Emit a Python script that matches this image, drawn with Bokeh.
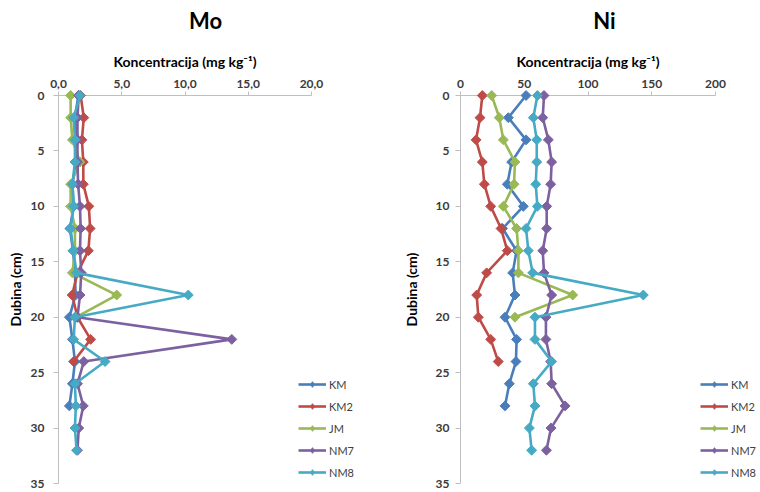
import math
from bokeh.plotting import figure
from bokeh.layouts import row
from bokeh.models import Range1d, FixedTicker, Legend, LegendItem
from bokeh.core.properties import value
from bokeh.embed import file_html
from bokeh.resources import INLINE

# ---------------- data ----------------
series_names = ["KM", "KM2", "JM", "NM7", "NM8"]
series_colors = ["#4a7ebb", "#be4b48", "#98b954", "#7d60a0", "#46aac5"]

depth = [0, 2, 4, 6, 8, 10, 12, 14, 16, 18, 20, 22, 24, 26, 28, 30, 32]

# Mo (mg/kg)
mo_km = [1.57, 1.3, 1.45, 1.4, 1.1, 1.2, 0.9, 1.15, 1.3, 1.35, 0.86, 1.1, 1.3, 1.1, 0.86]
mo_km2 = [1.75, 2.0, 1.85, 1.96, 1.96, 2.4, 2.5, 2.36, 1.5, 1.08, 1.5, 2.54, 1.2]
mo_jm = [0.96, 0.96, 1.1, 1.7, 0.96, 0.96, 1.3, 1.3, 1.1, 4.6, 1.4]
mo_nm7 = [1.6, 1.5, 1.5, 1.5, 1.55, 1.7, 1.75, 1.7, 1.8, 1.7, 1.5, 13.7, 2.0, 1.5, 1.96, 1.6, 1.5]
mo_nm8 = [1.7, 1.2, 1.3, 1.3, 1.1, 1.2, 0.96, 1.17, 1.43, 10.26, 1.3, 1.2, 3.68, 1.3, 1.37, 1.3, 1.43]

# Ni (mg/kg)
ni_km = [51.4, 37.5, 51.4, 40.1, 36.7, 49.3, 33.0, 44.0, 40.9, 42.7, 34.9, 44.0, 43.5, 38.3, 34.9]
ni_km2 = [17.1, 15.3, 12.2, 17.1, 18.7, 23.7, 31.8, 36.7, 20.5, 12.7, 14.0, 23.7, 29.6]
ni_jm = [24.5, 30.4, 33.6, 42.7, 42.0, 33.6, 44.0, 45.4, 45.4, 88.0, 42.7]
ni_nm7 = [65.5, 64.5, 68.9, 71.5, 70.7, 67.6, 67.6, 64.5, 65.5, 71.5, 67.0, 67.0, 70.7, 71.5, 82.0, 71.0, 67.4]
ni_nm8 = [60.3, 57.1, 59.8, 59.8, 59.0, 60.3, 51.4, 53.2, 56.6, 143.4, 58.4, 58.4, 71.5, 57.1, 58.4, 54.0, 55.8]

mo_x_ticks = [0, 5, 10, 15, 20]
mo_x_labels = ["0,0", "5,0", "10,0", "15,0", "20,0"]
ni_x_ticks = [0, 50, 100, 150, 200]
ni_x_labels = ["0", "50", "100", "150", "200"]
y_ticks = [0, 5, 10, 15, 20, 25, 30, 35]

x_title = "Koncentracija (mg kg⁻¹)"
y_title = "Dubina (cm)"

FONT = "Lato"
AXIS_COLOR = "#bfbfbf"
TICK_TEXT = "#3a3a3a"


def panel(title, series, x_ticks, x_labels, width, border_left, border_right,
          axis_px, title_px_x, ylab_standoff, tick_standoff, legend_x):
    height = 492
    border_top = 95
    border_bottom = 9
    frame_w = width - border_left - border_right
    frame_h = height - border_top - border_bottom
    x_max = x_ticks[-1]
    x_end = x_max * frame_w / axis_px
    y_max = y_ticks[-1]
    px_per_x = frame_w / x_end
    px_per_y = frame_h / y_max

    p = figure(width=width, height=height, output_backend="svg", toolbar_location=None,
               x_range=Range1d(0, x_end), y_range=Range1d(y_max, 0),
               x_axis_location="above",
               min_border_left=border_left, min_border_right=border_right,
               min_border_top=border_top, min_border_bottom=border_bottom)
    p.xgrid.visible = False
    p.ygrid.visible = False
    p.outline_line_color = None

    # chart title, 75 px above the frame top (drawn unclipped)
    p.text(x=[title_px_x / px_per_x], y=[-75 / px_per_y], text=[title],
           text_align="center", text_baseline="middle",
           text_font=value(FONT), text_font_size=value("22px"),
           text_font_style="bold", text_color="#000000", level="overlay")
    # x-axis title, centred over the axis (0..x_max), 34 px above the axis line
    p.text(x=[x_max / 2], y=[-34 / px_per_y], text=[x_title],
           text_align="center", text_baseline="middle",
           text_font=value(FONT), text_font_size=value("14px"),
           text_font_style="bold", text_color="#000000", level="overlay")

    xa = p.xaxis[0]
    xa.bounds = (0, x_max)
    xa.ticker = FixedTicker(ticks=x_ticks)
    xa.major_label_overrides = dict(zip(x_ticks, x_labels))
    xa.major_label_text_font = FONT
    xa.major_label_text_font_size = "12px"
    xa.major_label_text_font_style = "bold"
    xa.major_label_text_color = TICK_TEXT
    xa.major_label_standoff = 4
    xa.axis_line_color = AXIS_COLOR
    xa.major_tick_line_color = AXIS_COLOR
    xa.major_tick_out = 4
    xa.major_tick_in = 0
    xa.minor_tick_out = 0
    xa.minor_tick_in = 0

    ya = p.yaxis[0]
    ya.bounds = (0, y_max)
    ya.ticker = FixedTicker(ticks=y_ticks)
    ya.axis_label = y_title
    ya.axis_label_text_font = FONT
    ya.axis_label_text_font_size = "14px"
    ya.axis_label_text_font_style = "bold"
    ya.axis_label_text_color = "#000000"
    ya.axis_label_standoff = ylab_standoff
    ya.major_label_text_font = FONT
    ya.major_label_text_font_size = "12px"
    ya.major_label_text_font_style = "bold"
    ya.major_label_text_color = TICK_TEXT
    ya.major_label_standoff = tick_standoff
    ya.axis_line_color = AXIS_COLOR
    ya.major_tick_line_color = AXIS_COLOR
    ya.major_tick_out = 5
    ya.major_tick_in = 0
    ya.minor_tick_out = 0
    ya.minor_tick_in = 0

    items = []
    nan = float("nan")
    for name, color, xs in zip(series_names, series_colors, series):
        ys = depth[:len(xs)]
        r1 = p.line(xs, ys, line_color=color, line_width=2.6, level="overlay")
        p.scatter(xs, ys, marker="square", angle=math.pi / 4, size=7,
                  fill_color=color, line_color=color, level="overlay")
        # legend-only key glyph (a NaN point, draws nothing in the plot)
        key = p.scatter(x=[nan], y=[nan], marker="diamond", size=8,
                        fill_color=color, line_color=color)
        items.append(LegendItem(label=name, renderers=[r1, key]))

    legend = Legend(items=items, location=(legend_x, 4), glyph_width=28, glyph_height=14,
                    label_height=14, spacing=8, padding=0, margin=0,
                    border_line_color=None, background_fill_alpha=0,
                    label_text_font=FONT, label_text_font_size="11px",
                    label_text_color="#404040", label_standoff=3)
    p.add_layout(legend)
    return p


p_mo = panel("Mo", [mo_km, mo_km2, mo_jm, mo_nm7, mo_nm8], mo_x_ticks, mo_x_labels,
             width=388, border_left=58, border_right=8, axis_px=253,
             title_px_x=147, ylab_standoff=4, tick_standoff=9, legend_x=240)
p_ni = panel("Ni", [ni_km, ni_km2, ni_jm, ni_nm7, ni_nm8], ni_x_ticks, ni_x_labels,
             width=372, border_left=72, border_right=2, axis_px=255,
             title_px_x=144, ylab_standoff=13, tick_standoff=6, legend_x=240)

layout = row(p_mo, p_ni)
open("out.html", "w").write(file_html(layout, INLINE))
